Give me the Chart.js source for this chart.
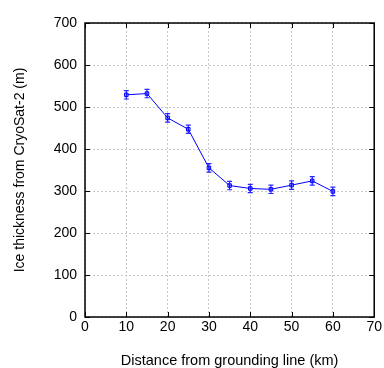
<!DOCTYPE html>
<html>
<head>
<meta charset="utf-8">
<script src="https://cdn.jsdelivr.net/npm/chart.js@4"></script>
<style>
html,body{margin:0;padding:0;background:#fff;}
#wrap{width:384px;height:368px;}
</style>
</head>
<body>
<div id="wrap"><canvas id="c" width="384" height="368"></canvas></div>
<script>
const distances = [10, 15, 20, 25, 30, 35, 40, 45, 50, 55, 60];
const thickness = [529, 532, 474, 447, 355, 313, 306, 304, 314, 324, 299];
const errors = [10, 10, 10, 10, 10, 10, 10, 10, 10, 10, 10];
const xTicks = [0, 10, 20, 30, 40, 50, 60, 70];
const yTicks = [0, 100, 200, 300, 400, 500, 600, 700];

const FONT = "'Liberation Sans', Arial, sans-serif";

const frame = {
  id: 'frame',
  beforeDatasetsDraw(chart) {
    const {ctx, chartArea: a, scales: {x, y}} = chart;
    ctx.save();
    ctx.strokeStyle = '#000';
    ctx.lineWidth = 1;
    ctx.beginPath();
    xTicks.forEach(v => {
      const px = Math.round(x.getPixelForValue(v)) + 0.5;
      ctx.moveTo(px, a.bottom); ctx.lineTo(px, a.bottom - 5);
      ctx.moveTo(px, a.top); ctx.lineTo(px, a.top + 5);
    });
    yTicks.forEach(v => {
      const py = Math.round(y.getPixelForValue(v)) + 0.5;
      ctx.moveTo(a.left, py); ctx.lineTo(a.left + 5, py);
      ctx.moveTo(a.right, py); ctx.lineTo(a.right - 5, py);
    });
    ctx.stroke();
    ctx.lineWidth = 1.5;
    ctx.strokeRect(a.left, a.top, a.right - a.left, a.bottom - a.top);
    ctx.restore();
  }
};

const errBars = {
  id: 'errBars',
  afterDatasetsDraw(chart) {
    const {ctx, scales: {x, y}} = chart;
    ctx.save();
    ctx.strokeStyle = 'rgba(0,0,255,0.85)';
    ctx.lineWidth = 1.2;
    distances.forEach((d, i) => {
      const px = x.getPixelForValue(d);
      const yt = y.getPixelForValue(thickness[i] + errors[i]);
      const yb = y.getPixelForValue(thickness[i] - errors[i]);
      ctx.beginPath();
      ctx.moveTo(px, yt); ctx.lineTo(px, yb);
      ctx.moveTo(px - 2.5, yt); ctx.lineTo(px + 2.5, yt);
      ctx.moveTo(px - 2.5, yb); ctx.lineTo(px + 2.5, yb);
      ctx.stroke();
    });
    ctx.restore();
  }
};

new Chart(document.getElementById('c'), {
  type: 'line',
  data: {
    datasets: [{
      data: distances.map((d, i) => ({x: d, y: thickness[i]})),
      borderColor: '#0000ff',
      borderWidth: 1,
      pointStyle: 'rect',
      pointRadius: 2.5,
      pointBorderColor: '#0000ff',
      pointBackgroundColor: 'rgba(120,120,255,0.6)',
      pointBorderWidth: 1,
      tension: 0
    }]
  },
  options: {
    responsive: false,
    animation: false,
    devicePixelRatio: 1,
    layout: {padding: {top: 23, right: 5, left: 0, bottom: 0}},
    plugins: {legend: {display: false}, tooltip: {enabled: false}},
    scales: {
      x: {
        type: 'linear', min: 0, max: 70,
        afterFit(s) { s.height = 51; },
        afterBuildTicks(s) { s.ticks = xTicks.map(v => ({value: v})); },
        grid: {color: '#c8c8c8', drawTicks: false, lineWidth: 1},
        border: {display: false, dash: [2, 2]},
        ticks: {color: '#000', font: {family: FONT, size: 14}, padding: 2, maxRotation: 0},
        title: {display: true, text: 'Distance from grounding line (km)', color: '#000',
                font: {family: FONT, size: 14.5, lineHeight: 0.95}, padding: 0}
      },
      y: {
        type: 'linear', min: 0, max: 700,
        afterFit(s) { s.width = 85; },
        afterBuildTicks(s) { s.ticks = yTicks.map(v => ({value: v})); },
        grid: {color: '#c8c8c8', drawTicks: false, lineWidth: 1},
        border: {display: false, dash: [2, 2]},
        ticks: {color: '#000', font: {family: FONT, size: 14}, padding: 8},
        title: {display: true, text: 'Ice thickness from CryoSat-2 (m)', color: '#000',
                font: {family: FONT, size: 14}, padding: {top: 12, bottom: 0}}
      }
    }
  },
  plugins: [frame, errBars]
});
</script>
</body>
</html>
